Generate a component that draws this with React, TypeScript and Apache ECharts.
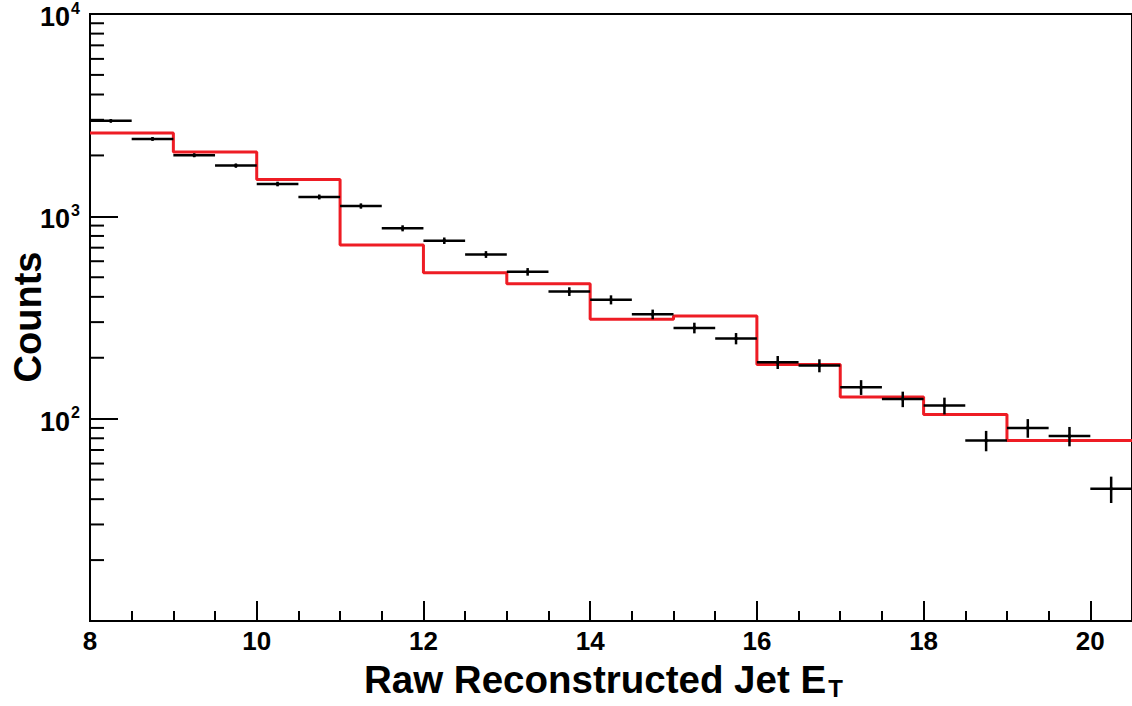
import React, { useEffect, useRef } from "react";
import * as echarts from "echarts";

// Black points: bin centres (bin width 0.5), counts, errors
const binCenters = [
  8.25, 8.75, 9.25, 9.75, 10.25, 10.75, 11.25, 11.75, 12.25, 12.75, 13.25, 13.75,
  14.25, 14.75, 15.25, 15.75, 16.25, 16.75, 17.25, 17.75, 18.25, 18.75, 19.25, 19.75, 20.25,
];
const counts = [
  2965, 2414, 2004, 1782, 1445, 1247, 1125, 873, 758, 648, 532, 425,
  387, 328, 281, 249, 190, 183, 143, 125, 116, 78, 90, 82, 45,
];
const countErrors = [
  54, 49, 45, 42, 38, 35, 34, 30, 28, 25, 23, 21,
  20, 18, 17, 16, 14, 13.5, 12, 11, 11, 9, 9.5, 9, 6.7,
];
const halfBin = 0.25;

// Red histogram: left edges (bin width 1) and contents
const redEdges = [8, 9, 10, 11, 12, 13, 14, 15, 16, 17, 18, 19, 20, 21];
const redValues = [2585, 2081, 1520, 721, 526, 464, 310, 322, 185, 128, 105, 78, 78, 78];

// Minor log ticks on y axis
const yMinorTicks = [
  20, 30, 40, 50, 60, 70, 80, 90,
  200, 300, 400, 500, 600, 700, 800, 900,
  2000, 3000, 4000, 5000, 6000, 7000, 8000, 9000,
];

const FONT = "'Liberation Sans', Arial, Helvetica, sans-serif";

export default function App() {
  const ref = useRef<HTMLDivElement>(null);

  useEffect(() => {
    if (!ref.current) return;
    const chart = echarts.init(ref.current, null, { renderer: "svg" });

    const pointData = binCenters.map((c, i) => [c, counts[i], countErrors[i]]);
    const redData = redEdges.map((e, i) => [e, redValues[i]]);

    chart.setOption({
      animation: false,
      backgroundColor: "#fff",
      grid: {
        left: 90,
        top: 14,
        width: 1046,
        height: 607,
        show: true,
        borderColor: "#000",
        borderWidth: 2,
        backgroundColor: "transparent",
      },
      xAxis: {
        type: "value",
        min: 8,
        max: 20.5,
        interval: 2,
        axisLine: { show: true, lineStyle: { color: "#000", width: 2 } },
        axisTick: { show: true, inside: true, length: 20, lineStyle: { color: "#000", width: 2 } },
        minorTick: { show: true, splitNumber: 4, length: 10, lineStyle: { color: "#000", width: 2 } },
        splitLine: { show: false },
        axisLabel: {
          showMaxLabel: false,
          margin: 7,
          color: "#000",
          fontSize: 26,
          fontWeight: "bold",
          fontFamily: FONT,
        },
      },
      yAxis: {
        type: "log",
        logBase: 10,
        min: 10,
        max: 10000,
        axisLine: { show: true, lineStyle: { color: "#000", width: 2 } },
        axisTick: { show: true, inside: true, length: 28, lineStyle: { color: "#000", width: 2 } },
        minorTick: { show: false },
        splitLine: { show: false },
        axisLabel: {
          showMinLabel: false,
          margin: 10,
          formatter: (v: number) => {
            const e = Math.round(Math.log10(v));
            return `{b|10}{s|${e}}`;
          },
          rich: {
            b: { fontSize: 27, fontWeight: "bold", fontFamily: FONT, color: "#000", padding: [6, 0, 0, 0] },
            s: {
              fontSize: 16,
              fontWeight: "bold",
              fontFamily: FONT,
              color: "#000",
              padding: [0, 0, 12, 1],
            },
          },
        },
      },
      series: [
        {
          type: "line",
          data: redData,
          step: "end",
          symbol: "none",
          clip: true,
          lineStyle: { color: "#ee1c24", width: 3 },
          z: 2,
        },
        {
          type: "custom",
          data: pointData,
          z: 3,
          renderItem: (params: any, api: any) => {
            const xc = api.value(0);
            const v = api.value(1);
            const e = api.value(2);
            const l = api.coord([xc - halfBin, v]);
            const r = api.coord([xc + halfBin, v]);
            const t = api.coord([xc, v + e]);
            const b = api.coord([xc, v - e]);
            return {
              type: "group",
              children: [
                {
                  type: "line",
                  shape: { x1: l[0], y1: l[1], x2: r[0], y2: r[1] },
                  style: { stroke: "#000", lineWidth: 2.5 },
                },
                {
                  type: "line",
                  shape: { x1: t[0], y1: t[1], x2: b[0], y2: b[1] },
                  style: { stroke: "#000", lineWidth: 2.5 },
                },
                {
                  type: "circle",
                  shape: { cx: (l[0] + r[0]) / 2, cy: l[1], r: 1.8 },
                  style: { fill: "#000" },
                },
              ],
            };
          },
        },
        {
          type: "custom",
          data: yMinorTicks.map((v) => [8, v]),
          z: 4,
          renderItem: (params: any, api: any) => {
            const p = api.coord([api.value(0), api.value(1)]);
            return {
              type: "line",
              shape: { x1: p[0], y1: p[1], x2: p[0] + 14, y2: p[1] },
              style: { stroke: "#000", lineWidth: 2 },
            };
          },
        },
      ],
      graphic: [
        {
          type: "text",
          left: 364,
          top: 650,
          style: {
            text: "{m|Raw Reconstructed Jet E}{s|T}",
            fill: "#000",
            rich: {
              m: {
                fontSize: 38.5,
                fontWeight: "bold",
                fontFamily: FONT,
                fill: "#000",
                color: "#000",
                lineHeight: 40,
                verticalAlign: "top",
              },
              s: {
                fontSize: 24,
                fontWeight: "bold",
                fontFamily: FONT,
                fill: "#000",
                color: "#000",
                lineHeight: 24,
                verticalAlign: "bottom",
                padding: [26, 0, 0, 2],
              },
            },
          },
        },
        {
          type: "text",
          x: 28,
          y: 317,
          rotation: Math.PI / 2,
          style: {
            text: "Counts",
            fontSize: 38,
            fontWeight: "bold",
            fontFamily: FONT,
            fill: "#000",
            align: "center",
            verticalAlign: "middle",
          },
        },
      ],
    });

    return () => chart.dispose();
  }, []);

  return (
    <div
      ref={ref}
      style={{ position: "fixed", left: 0, top: 0, width: 1132, height: 706, background: "#fff" }}
    />
  );
}
